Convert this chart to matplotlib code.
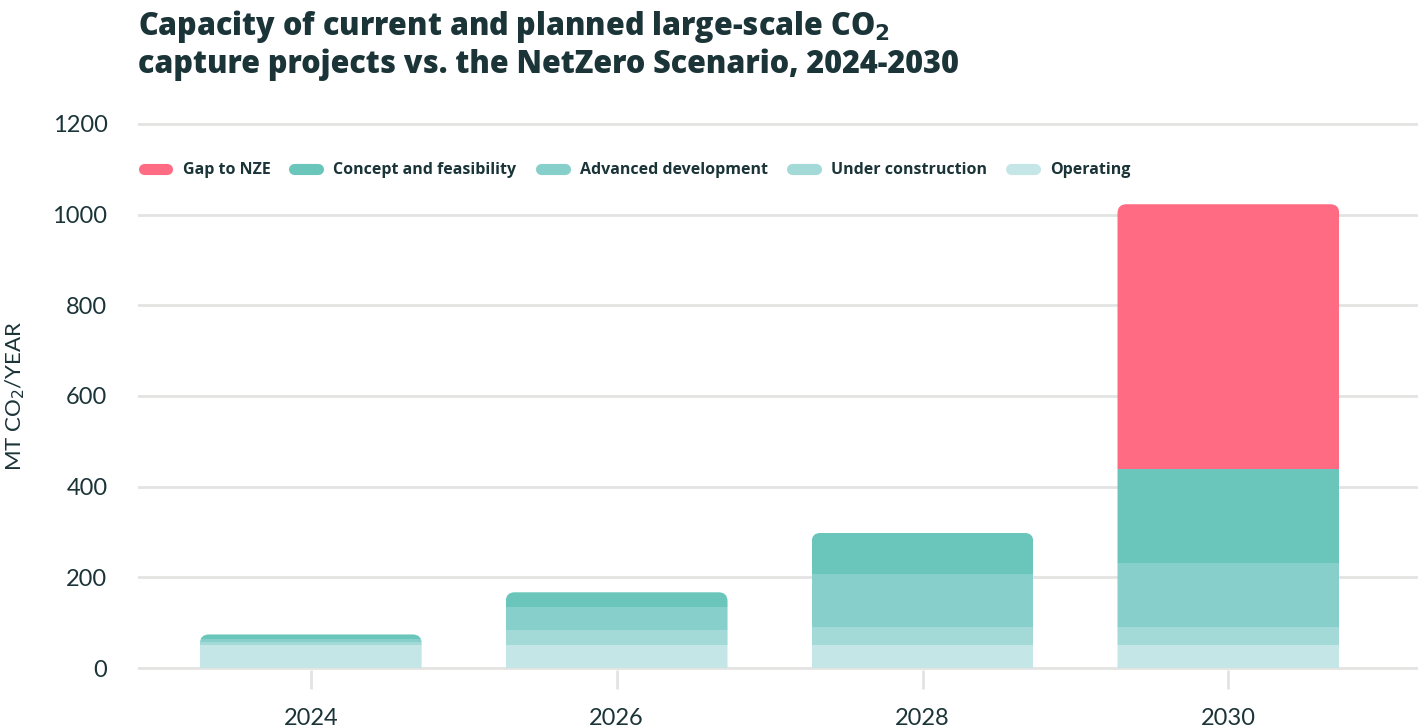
import matplotlib
matplotlib.use('Agg')
import matplotlib.pyplot as plt
from matplotlib.path import Path
from matplotlib.patches import PathPatch
from matplotlib.lines import Line2D
import numpy as np

plt.rcParams['font.family'] = ['Lato', 'DejaVu Sans']

years = [2024, 2026, 2028, 2030]
operating = [50, 50, 50, 50]
under_construction = [7, 33, 40, 40]
advanced_dev = [7, 52, 117, 141]
concept = [10, 32, 91, 207]
gap_nze = [0, 0, 0, 585]

series = [
    ('Operating', operating, '#c5e6e7'),
    ('Under construction', under_construction, '#a3d9d7'),
    ('Advanced development', advanced_dev, '#86cfca'),
    ('Concept and feasibility', concept, '#6ac6bb'),
    ('Gap to NZE', gap_nze, '#ff6b83'),
]

text_col = '#1b3438'
grid_col = '#e3e3e1'
bar_w = 1.45

fig = plt.figure(figsize=(14.25, 7.28), dpi=100)
ax = fig.add_axes([138 / 1425, 0.0793, (1418 - 138) / 1425, 0.8328 - 0.0793])
ax.set_xlim(2022.87, 2031.24)
ax.set_ylim(-5, 1205)

# stacked bars
bottom = np.zeros(len(years))
bar_groups = []
for name, vals, col in series:
    bars = ax.bar(years, vals, width=bar_w, bottom=bottom, color=col,
                  linewidth=0, zorder=3)
    bar_groups.append(bars)
    bottom = bottom + np.array(vals)
totals = bottom

# round the top corners of each stacked column
bb = ax.get_position()
px_x = bb.width * fig.bbox.width / (ax.get_xlim()[1] - ax.get_xlim()[0])
px_y = bb.height * fig.bbox.height / (ax.get_ylim()[1] - ax.get_ylim()[0])
r_px = 9
rx, ry = r_px / px_x, r_px / px_y
for i, yr in enumerate(years):
    x0, x1 = yr - bar_w / 2, yr + bar_w / 2
    y1 = totals[i]
    verts = [(x0, 0), (x0, y1 - ry), (x0, y1), (x0 + rx, y1), (x1 - rx, y1),
             (x1, y1), (x1, y1 - ry), (x1, 0), (x0, 0)]
    codes = [Path.MOVETO, Path.LINETO, Path.CURVE3, Path.CURVE3, Path.LINETO,
             Path.CURVE3, Path.CURVE3, Path.LINETO, Path.CLOSEPOLY]
    clip = PathPatch(Path(verts, codes), transform=ax.transData,
                     facecolor='none', edgecolor='none')
    for bars in bar_groups:
        bars[i].set_clip_path(clip)

# axes styling
for s in ax.spines.values():
    s.set_visible(False)
ax.set_yticks(range(0, 1201, 200))
ax.set_xticks(years)
ax.grid(axis='y', color=grid_col, linewidth=2, zorder=0)
ax.tick_params(axis='y', length=0, pad=22, labelsize=17, labelcolor=text_col)
ax.tick_params(axis='x', length=14, width=2, color=grid_col, pad=13,
               labelsize=17, labelcolor=text_col)
ax.set_ylabel('MT CO$_2$/YEAR', fontsize=16, color=text_col, labelpad=18)

# legend
order = [4, 3, 2, 1, 0]
handles = [Line2D([0], [0], color=series[k][2], linewidth=8,
                  solid_capstyle='round') for k in order]
labels = [series[k][0] for k in order]
leg = ax.legend(handles, labels, loc='center left',
                bbox_to_anchor=(5.5 / 1280, (1098 + 5) / 1210), ncol=5,
                frameon=False, handlelength=1.5,
                prop={'family': 'Open Sans', 'weight': 'bold', 'size': 11.5},
                handletextpad=0.95, columnspacing=1.5, borderaxespad=0,
                borderpad=0)
for t in leg.get_texts():
    t.set_color(text_col)

fig.text(138 / 1425, 1 - 8 / 728,
         'Capacity of current and planned large-scale CO$_\\mathbf{2}$\n'
         'capture projects vs. the NetZero Scenario, 2024-2030',
         ha='left', va='top', fontsize=22, fontweight='heavy',
         family=['Open Sans', 'DejaVu Sans'], color=text_col,
         linespacing=1.15)

fig.savefig('out.png', dpi=100)
